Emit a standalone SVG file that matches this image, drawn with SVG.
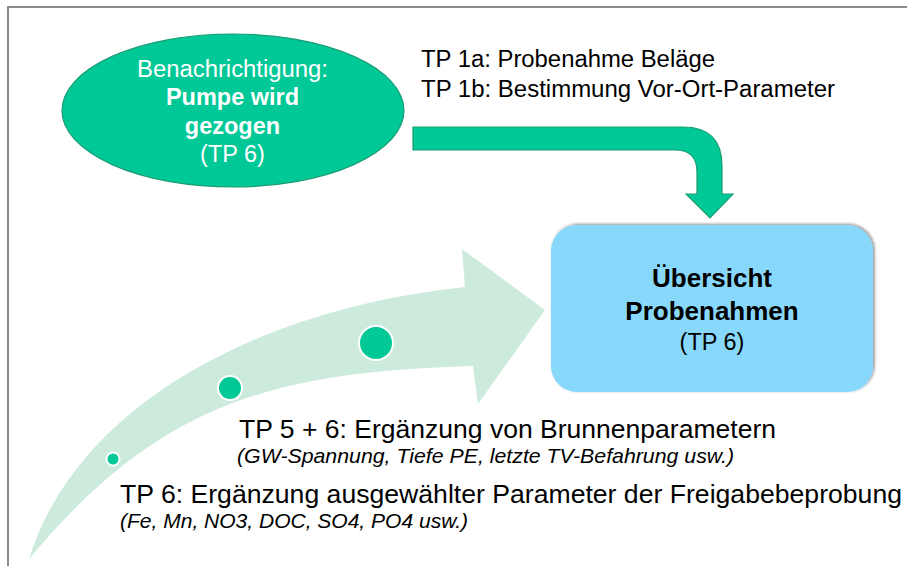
<svg xmlns="http://www.w3.org/2000/svg" width="907" height="566" viewBox="0 0 907 566">
  <defs>
    <filter id="shadow" x="-10%" y="-10%" width="120%" height="120%">
      <feDropShadow dx="1.5" dy="-1" stdDeviation="1.8" flood-color="#000" flood-opacity="0.45"/>
    </filter>
  </defs>
  <style>
    text { font-family: "Liberation Sans", Arial, sans-serif; }
    .w { fill: #ffffff; font-size: 23.5px; }
    .wb { fill: #ffffff; font-size: 23.5px; font-weight: bold; }
    .k { fill: #000000; font-size: 23.5px; }
    .kb { fill: #000000; font-size: 26px; font-weight: bold; }
    .big { fill: #000000; font-size: 26.5px; }
    .it { fill: #000000; font-size: 21px; font-style: italic; }
    .dot { fill: #00C896; stroke: #ffffff; stroke-width: 2; }
    .green { fill: #00C896; stroke: #1A9C74; stroke-width: 1.2; }
  </style>

  <rect x="0" y="0" width="907" height="566" fill="#ffffff"/>
  <!-- frame -->
  <path d="M8,566 V7 H907" fill="none" stroke="#8a8a8a" stroke-width="2"/>

  <g id="connectors">
    <!-- big curved light arrow -->
    <path id="progress-arrow" d="M29,559 C75,410 250,310 465,287 L462,249 L545,310 L478,404 L473,366 C273,372 159,403 29,559 Z" fill="#CCEBDD"/>
    <circle class="dot" cx="113" cy="459" r="6.5"/>
    <circle class="dot" cx="230" cy="388" r="12"/>
    <circle class="dot" cx="376" cy="343" r="17"/>
    <!-- bent arrow -->
    <path id="bent-arrow" class="green" d="M413,127 H683 Q722,127 722,166 V194 H733 L710,218 L686,194 H697 V172 Q697,150 675,150 H413 Z"/>
  </g>

  <g id="node-benachrichtigung">
    <ellipse class="green" cx="233" cy="110.5" rx="171" ry="76.5" stroke-width="1.5"/>
    <text class="w" x="232.5" y="77" text-anchor="middle" textLength="191" lengthAdjust="spacingAndGlyphs">Benachrichtigung:</text>
    <text class="wb" x="232.5" y="105" text-anchor="middle">Pumpe wird</text>
    <text class="wb" x="232.5" y="133.5" text-anchor="middle">gezogen</text>
    <text class="w" x="232.5" y="162" text-anchor="middle">(TP 6)</text>
  </g>

  <g id="node-uebersicht">
    <rect x="551" y="225" width="322" height="167" rx="26" ry="26" fill="#88D8FB" filter="url(#shadow)"/>
    <text class="kb" x="712" y="287" text-anchor="middle">Übersicht</text>
    <text class="kb" x="712" y="320" text-anchor="middle">Probenahmen</text>
    <text class="k" x="712" y="350" text-anchor="middle">(TP 6)</text>
  </g>

  <g id="label-tp1">
    <text class="k" x="421" y="67" textLength="294" lengthAdjust="spacingAndGlyphs">TP 1a: Probenahme Beläge</text>
    <text class="k" x="421" y="96.5" textLength="414" lengthAdjust="spacingAndGlyphs">TP 1b: Bestimmung Vor-Ort-Parameter</text>
  </g>

  <g id="label-tp56">
    <text class="big" x="239" y="438" textLength="537" lengthAdjust="spacingAndGlyphs">TP 5 + 6: Ergänzung von Brunnenparametern</text>
    <text class="it" x="237" y="463" textLength="497" lengthAdjust="spacingAndGlyphs">(GW-Spannung, Tiefe PE, letzte TV-Befahrung usw.)</text>
  </g>

  <g id="label-tp6">
    <text class="big" x="120" y="503" textLength="782" lengthAdjust="spacingAndGlyphs">TP 6: Ergänzung ausgewählter Parameter der Freigabebeprobung</text>
    <text class="it" x="120" y="527.5" textLength="348" lengthAdjust="spacingAndGlyphs">(Fe, Mn, NO3, DOC, SO4, PO4 usw.)</text>
  </g>
</svg>
